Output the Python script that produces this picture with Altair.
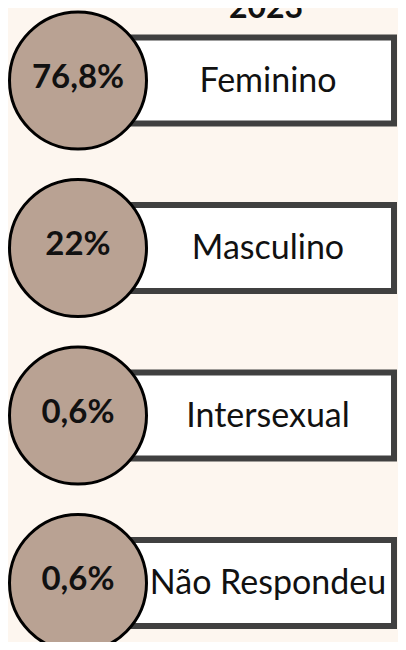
import altair as alt
import pandas as pd

categories = ["Feminino", "Masculino", "Intersexual", "Não Respondeu"]
values = [76.8, 22, 0.6, 0.6]
year = ["2023"]


def fmt(v):
    return f"{v:g}".replace(".", ",") + "%"


df = pd.DataFrame({"cat": categories, "pct": values, "pct_label": [fmt(v) for v in values]})
df_title = pd.DataFrame({"year": year})

yenc = alt.Y(
    "cat:N",
    sort=categories,
    axis=None,
    scale=alt.Scale(type="band", range=[-11.25, 658.75], paddingInner=0.4866, paddingOuter=0.2433),
)

rect = alt.Chart(df).mark_rect(fill="white", stroke="#404040", strokeWidth=6).encode(
    y=yenc, x=alt.value(120), x2=alt.value(386)
)

circ = alt.Chart(df).mark_circle(
    size=18769, color="#b9a293", stroke="black", strokeWidth=3, opacity=1
).encode(y=yenc, x=alt.value(70))

lab = alt.Chart(df).mark_text(
    font="Lato", fontSize=34, color="#111111", align="center", baseline="middle", dy=1
).encode(y=yenc, x=alt.value(260), text="cat:N")

pct = alt.Chart(df).mark_text(
    font="Lato", fontSize=33, fontWeight="bold", color="#111111", align="center", baseline="middle", dy=-3
).encode(y=yenc, x=alt.value(70), text="pct_label:N")

title = alt.Chart(df_title).mark_text(
    font="Lato", fontSize=32, fontWeight="bold", color="#111111", align="center", baseline="alphabetic"
).encode(x=alt.value(258), y=alt.value(10), text="year:N")

chart = (
    alt.layer(rect, circ, lab, pct, title)
    .properties(width=390, height=634, autosize=alt.AutoSizeParams(type="none"), padding=0, background="#fdf6ef")
    .configure_view(strokeWidth=0)
)

chart.save("out.html", embed_options={"renderer": "svg", "actions": False})
